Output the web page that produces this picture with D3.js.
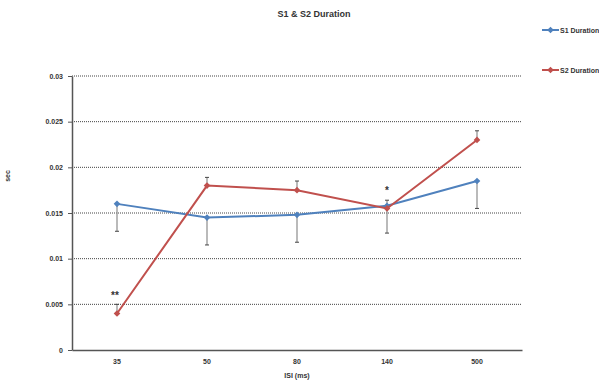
<!DOCTYPE html>
<meta charset="utf-8">
<html>
<head>
<script src="https://cdn.jsdelivr.net/npm/d3@7"></script>
<style>
body { margin:0; background:#fff; }
text { font-family:'Liberation Sans', Arial, sans-serif; font-weight:bold; fill:#333; }
</style>
</head>
<body>
<div id="my_dataviz"></div>
<script>

// data
var categories = ["35", "50", "80", "140", "500"];
var s1Values = [0.0160, 0.0145, 0.0148, 0.0158, 0.0185];
var s2Values = [0.0040, 0.0180, 0.0175, 0.0155, 0.0230];
var s1ErrLow = [0.0030, 0.0030, 0.0030, 0.0030, 0.0030];
var s2ErrHigh = [0.0010, 0.0009, 0.0010, 0.0009, 0.0010];
var yTicks = [0, 0.005, 0.01, 0.015, 0.02, 0.025, 0.03];
var yTickLabels = ["0", "0.005", "0.01", "0.015", "0.02", "0.025", "0.03"];
var stars = [{cat: "35", text: "**", value: 0.0056}, {cat: "140", text: "*", value: 0.0171}];

var W = 599, H = 381;
var margin = {top: 76, right: 77, bottom: 31, left: 72},
    width = W - margin.left - margin.right,
    height = H - margin.top - margin.bottom;

var svg = d3.select("#my_dataviz")
  .append("svg")
  .attr("width", W)
  .attr("height", H);

var g = svg.append("g")
  .attr("transform", "translate(" + margin.left + "," + margin.top + ")");

var x = d3.scaleBand().domain(categories).range([0, width]);
var y = d3.scaleLinear().domain([0, 0.03]).range([height, 0]);

// gridlines
g.selectAll(".grid")
  .data(yTicks.filter(function(d) { return d > 0; }))
  .enter().append("line")
  .attr("x1", 0).attr("x2", width)
  .attr("y1", function(d) { return y(d); })
  .attr("y2", function(d) { return y(d); })
  .attr("stroke", "#444")
  .attr("stroke-width", 1)
  .attr("stroke-dasharray", "1,1");

// Y axis
var yAxis = g.append("g")
  .call(d3.axisLeft(y).tickValues(yTicks)
    .tickFormat(function(d, i) { return yTickLabels[i]; })
    .tickSize(4).tickSizeOuter(0).tickPadding(5));
yAxis.select(".domain").attr("stroke", "#555").attr("stroke-width", 1.5);
yAxis.selectAll(".tick line").attr("stroke", "#555");
yAxis.selectAll("text").style("font-size", "7px").attr("fill", "#333");

// X axis
var xAxis = g.append("g")
  .attr("transform", "translate(0," + height + ")")
  .call(d3.axisBottom(x).tickSize(0).tickPadding(9));
xAxis.select(".domain").attr("stroke", "#555").attr("stroke-width", 1.5);
xAxis.selectAll("text").style("font-size", "7px").attr("fill", "#333");

// error bars
function errBars(cls, vals, lo, hi, color) {
  var eb = g.selectAll("." + cls).data(categories).enter().append("g").attr("class", cls);
  eb.append("line")
    .attr("x1", function(d) { return x(d) + x.bandwidth() / 2; })
    .attr("x2", function(d) { return x(d) + x.bandwidth() / 2; })
    .attr("y1", function(d, i) { return y(vals[i] - lo[i]); })
    .attr("y2", function(d, i) { return y(vals[i] + hi[i]); })
    .attr("stroke", color).attr("stroke-width", 1.2);
  eb.append("line")
    .attr("x1", function(d) { return x(d) + x.bandwidth() / 2 - 2; })
    .attr("x2", function(d) { return x(d) + x.bandwidth() / 2 + 2; })
    .attr("y1", function(d, i) { return lo[i] > 0 ? y(vals[i] - lo[i]) : y(vals[i] + hi[i]); })
    .attr("y2", function(d, i) { return lo[i] > 0 ? y(vals[i] - lo[i]) : y(vals[i] + hi[i]); })
    .attr("stroke", "#444").attr("stroke-width", 1);
}
var zeros = categories.map(function() { return 0; });
errBars("eb1", s1Values, s1ErrLow, zeros, "#8c8c8c");
errBars("eb2", s2Values, zeros, s2ErrHigh, "#8c8c8c");

// lines and markers (square turned 45deg, like the spreadsheet diamonds)
var diamond = d3.symbol().type(d3.symbolSquare).size(22);
function series(vals, color) {
  var line = d3.line()
    .x(function(d, i) { return x(categories[i]) + x.bandwidth() / 2; })
    .y(function(d) { return y(d); });
  g.append("path").datum(vals)
    .attr("d", line).attr("fill", "none")
    .attr("stroke", color).attr("stroke-width", 2);
  g.selectAll(null).data(vals).enter().append("path")
    .attr("d", diamond)
    .attr("transform", function(d, i) {
      return "translate(" + (x(categories[i]) + x.bandwidth() / 2) + "," + y(d) + ")rotate(45)";
    })
    .attr("fill", color);
}
series(s1Values, "#4f81bd");
series(s2Values, "#c0504d");

// significance stars
g.selectAll(".star").data(stars).enter().append("text")
  .attr("x", function(d) { return x(d.cat) + x.bandwidth() / 2 - (d.text.length > 1 ? 2 : 0); })
  .attr("y", function(d) { return y(d.value); })
  .attr("text-anchor", "middle")
  .style("font-size", "10px")
  .attr("fill", "#222")
  .text(function(d) { return d.text; });

// title
svg.append("text")
  .attr("x", 314).attr("y", 17)
  .attr("text-anchor", "middle")
  .style("font-size", "9px")
  .text("S1 & S2 Duration");

// axis titles
svg.append("text")
  .attr("x", margin.left + width / 2).attr("y", 378)
  .attr("text-anchor", "middle")
  .style("font-size", "7px")
  .text("ISI (ms)");
svg.append("text")
  .attr("transform", "translate(10,176)rotate(-90)")
  .attr("text-anchor", "middle")
  .style("font-size", "7px")
  .text("sec");

// legend
var legend = [{name: "S1 Duration", color: "#4f81bd", y: 30}, {name: "S2 Duration", color: "#c0504d", y: 70}];
var lg = svg.selectAll(".legend").data(legend).enter().append("g");
lg.append("line")
  .attr("x1", 542).attr("x2", 559)
  .attr("y1", function(d) { return d.y; }).attr("y2", function(d) { return d.y; })
  .attr("stroke", function(d) { return d.color; }).attr("stroke-width", 2);
lg.append("path")
  .attr("d", diamond)
  .attr("transform", function(d) { return "translate(550.5," + d.y + ")rotate(45)"; })
  .attr("fill", function(d) { return d.color; });
lg.append("text")
  .attr("x", 560).attr("y", function(d) { return d.y + 2.5; })
  .style("font-size", "7px")
  .text(function(d) { return d.name; });

</script>
</body>
</html>
